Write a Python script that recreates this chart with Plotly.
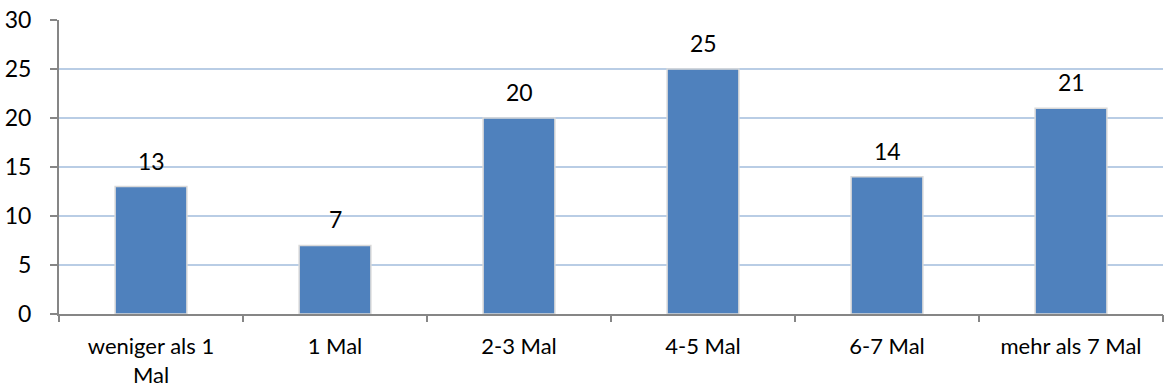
import plotly.graph_objects as go

categories = ["weniger als 1<br>Mal", "1 Mal", "2-3 Mal", "4-5 Mal", "6-7 Mal", "mehr als 7 Mal"]
values = [13, 7, 20, 25, 14, 21]
y_ticks = [0, 5, 10, 15, 20, 25, 30]

FONT = "Lato, 'Open Sans', sans-serif"
FONT_SIZE = 23
BAR_COLOR = "#4F81BD"

fig = go.Figure()
fig.add_trace(go.Bar(
    x=list(range(len(categories))),
    y=values,
    marker=dict(color=BAR_COLOR, line=dict(color="#D9D9D9", width=1.5)),
    width=0.39,
))

# value labels sitting above each bar
for i, v in enumerate(values):
    fig.add_annotation(x=i, y=v, text=str(v), showarrow=False,
                       yanchor="bottom", yshift=10,
                       font=dict(family=FONT, size=FONT_SIZE, color="#000000"))

fig.update_layout(
    width=1164, height=392,
    margin=dict(l=59, r=1, t=20, b=78),
    paper_bgcolor="white", plot_bgcolor="white",
    showlegend=False,
    font=dict(family=FONT, size=FONT_SIZE, color="#000000"),
    bargap=0.61,
)
fig.update_xaxes(
    range=[-0.5, len(categories) - 0.5],
    tickmode="array",
    tickvals=list(range(len(categories))),
    ticktext=categories,
    tickfont=dict(size=22),
    showgrid=False,
    showline=True, linecolor="#868686", linewidth=2,
    ticks="", zeroline=False,
    ticklabelstandoff=12,
    automargin=False,
)
# tick marks between categories
fig.update_layout(xaxis2=dict(
    overlaying="x", matches="x", range=[-0.5, len(categories) - 0.5],
    tickmode="array", tickvals=[i - 0.5 for i in range(len(categories) + 1)],
    showticklabels=False, ticks="outside", ticklen=7, tickcolor="#868686",
    tickwidth=2, showgrid=False, showline=False, zeroline=False,
    anchor="y", side="bottom", automargin=False,
))
fig.add_trace(go.Scatter(x=[0], y=[0], xaxis="x2", mode="markers",
                         marker=dict(opacity=0), hoverinfo="skip"))
fig.update_yaxes(
    range=[0, 30],
    tickmode="array", tickvals=y_ticks,
    showgrid=True, gridcolor="#B9CDE5", gridwidth=1.5,
    showline=True, linecolor="#868686", linewidth=2,
    ticks="outside", ticklen=7, tickcolor="#868686", tickwidth=2,
    zeroline=False,
    ticklabelstandoff=14,
    automargin=False,
)

fig.write_html("out.html")
